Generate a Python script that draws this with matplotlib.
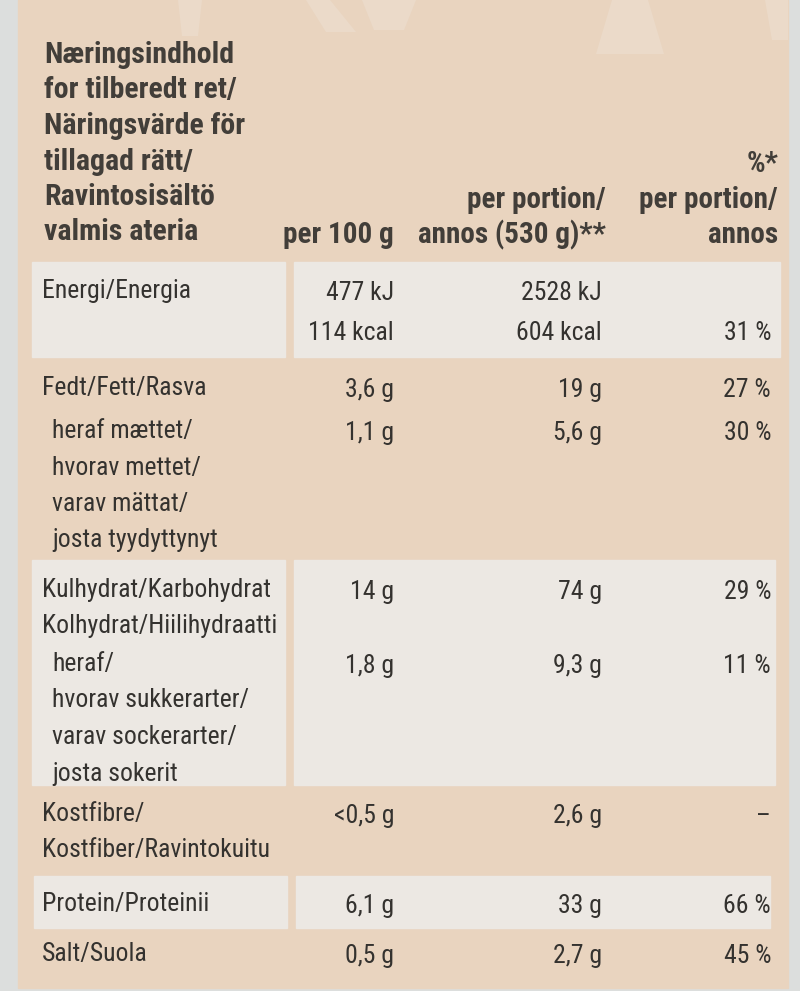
import matplotlib.pyplot as plt
from matplotlib import font_manager
from matplotlib.patches import Rectangle, Polygon

# Table content of the nutrition label
header_lines = ['Næringsindhold', 'for tilberedt ret/', 'Näringsvärde för',
                'tillagad rätt/', 'Ravintosisältö', 'valmis ateria']
col_heads = ['per 100 g', 'per portion/\nannos (530 g)**', '%*\nper portion/\nannos']

nutrients = [
    ['Energi/Energia'],
    ['Fedt/Fett/Rasva'],
    ['heraf mættet/', 'hvorav mettet/', 'varav mättat/', 'josta tyydyttynyt'],
    ['Kulhydrat/Karbohydrat', 'Kolhydrat/Hiilihydraatti'],
    ['heraf/', 'hvorav sukkerarter/', 'varav sockerarter/', 'josta sokerit'],
    ['Kostfibre/', 'Kostfiber/Ravintokuitu'],
    ['Protein/Proteinii'],
    ['Salt/Suola'],
]
indented = [False, False, True, False, True, False, False, False]
per_100g = [['477 kJ', '114 kcal'], ['3,6 g'], ['1,1 g'], ['14 g'], ['1,8 g'],
            ['<0,5 g'], ['6,1 g'], ['0,5 g']]
per_portion = [['2528 kJ', '604 kcal'], ['19 g'], ['5,6 g'], ['74 g'], ['9,3 g'],
               ['2,6 g'], ['33 g'], ['2,7 g']]
pct_ri = [['', '31 %'], ['27 %'], ['30 %'], ['29 %'], ['11 %'], ['–'], ['66 %'], ['45 %']]

# first baseline of each row (pixels from top)
row_base = [298, 395, 438, 597, 671, 821, 911, 961]
pitch = 36.5

# pick a narrow font if one is installed
names = {f.name for f in font_manager.fontManager.ttflist}
narrow = next((n for n in ['Roboto Condensed', 'Liberation Sans Narrow',
                           'Open Sans Condensed'] if n in names), 'DejaVu Sans')

ink = '#34322f'
head_ink = '#423e39'
peach = '#e9d4bf'
light = '#ece8e3'

fig = plt.figure(figsize=(8, 9.91), dpi=100)
fig.patch.set_facecolor('#dcdedd')
ax = fig.add_axes([0, 0, 1, 1])
ax.set_xlim(0, 800)
ax.set_ylim(991, 0)
ax.axis('off')

# label background, faint print marks at the top and the light cells
ax.add_patch(Rectangle((18, 0), 770, 988, color=peach, zorder=0))
for pts in [[(178, 0), (202, 0), (198, 36), (182, 36)],
            [(306, 0), (330, 0), (356, 32), (326, 32)],
            [(362, 0), (416, 0), (404, 30), (374, 30)],
            [(612, 0), (648, 0), (664, 54), (596, 54)],
            [(765, 0), (788, 0), (788, 40), (772, 40)]]:
    ax.add_patch(Polygon(pts, closed=True, color='#efe6dc', alpha=0.35,
                         lw=0, zorder=0.5))
for (x0, y0, x1, y1) in [(32, 262, 285, 357), (294, 262, 780, 357),
                         (32, 560, 285, 785), (294, 560, 775, 785),
                         (34, 876, 287, 928), (296, 876, 770, 928)]:
    ax.add_patch(Rectangle((x0, y0), x1 - x0, y1 - y0, color=light, zorder=1))

# header
for i, line in enumerate(header_lines):
    ax.text(44, 63 + i * 35.5, line, fontsize=21.5, fontweight='bold',
            family=narrow, color=head_ink, va='baseline', ha='left')

col_x = [394, 606, 778]
for cx, head in zip(col_x, col_heads):
    lines = head.split('\n')
    for j, line in enumerate(reversed(lines)):
        ax.text(cx, 243 - j * 35.5, line, fontsize=21, fontweight='bold',
                family=narrow, color=head_ink, va='baseline', ha='right')

# body rows
col_x = [394, 602, 771]
for r in range(len(nutrients)):
    lx = 52 if indented[r] else 42
    for j, line in enumerate(nutrients[r]):
        ax.text(lx, row_base[r] + j * pitch, line, fontsize=18.5, family=narrow,
                color=ink, va='baseline', ha='left')
    for cx, col in zip(col_x, [per_100g, per_portion, pct_ri]):
        for j, val in enumerate(col[r]):
            ax.text(cx, row_base[r] + 2 + j * (pitch + 3), val, fontsize=18.5,
                    family=narrow, color=ink, va='baseline', ha='right')

fig.savefig('out.png', dpi=100)
